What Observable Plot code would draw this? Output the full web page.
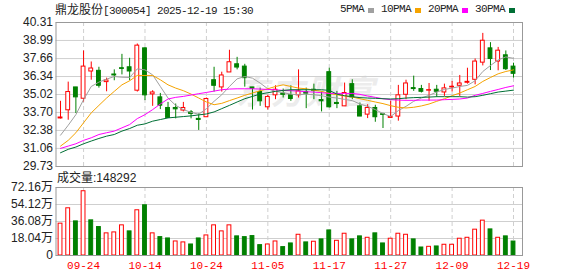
<!DOCTYPE html>
<html><head><meta charset="utf-8">
<script src="https://cdn.jsdelivr.net/npm/d3@7"></script>
<script src="https://cdn.jsdelivr.net/npm/@observablehq/plot@0.6"></script>
<style>
body{margin:0;background:#fff;}
#wrap{position:relative;width:578px;height:276px;overflow:hidden;background:#fff;font-family:"Liberation Sans","Noto Sans CJK SC",sans-serif;color:#222;}
#main{position:absolute;left:0;top:0;width:578px;height:172px;}
#vol{position:absolute;left:0;top:170px;width:578px;height:106px;}
#main svg,#vol svg{display:block;}
.cjk{font-family:"Noto Sans CJK SC",sans-serif;font-size:12px;}
.mono{font-family:"Liberation Mono",monospace;font-size:11px;letter-spacing:-0.6px;}
#title{position:absolute;left:55px;top:2px;white-space:nowrap;line-height:14px;}
#legend{position:absolute;left:340px;top:2px;display:flex;align-items:center;line-height:14px;white-space:nowrap;}
#legend .sw{display:inline-block;width:6px;height:5px;margin-left:4px;margin-right:7px;margin-top:3px;}
#volTitle{position:absolute;left:57px;top:171px;font-size:12px;line-height:14px;}
#wm{position:absolute;left:236px;top:66px;font-family:"Noto Sans CJK SC",sans-serif;font-size:33px;font-weight:bold;font-style:italic;color:#ececec;letter-spacing:2px;}
#err{position:absolute;left:0;top:120px;font-size:10px;color:#00f;}
</style>
</head><body>
<div id="wrap">
  <div id="wm">东方财富</div>
  <div id="main"></div>
  <div id="vol"></div>
  <div id="title"><span class="cjk">鼎龙股份</span><span class="mono">[300054] 2025-12-19 15:30</span></div>
  <div id="legend"></div>
  <div id="volTitle"></div>
  <div id="err"></div>
</div>
<script>
const dates = ["09-19","09-22","09-23","09-24","09-25","09-26","09-29","09-30","10-09","10-10",
"10-13","10-14","10-15","10-16","10-17","10-20","10-21","10-22","10-23","10-24",
"10-27","10-28","10-29","10-30","10-31","11-03","11-04","11-05","11-06","11-07",
"11-10","11-11","11-12","11-13","11-14","11-17","11-18","11-19","11-20","11-21",
"11-24","11-25","11-26","11-27","11-28","12-01","12-02","12-03","12-04","12-05",
"12-08","12-09","12-10","12-11","12-12","12-15","12-16","12-17","12-18","12-19"];
const open  = [33.26,33.86,35.54,34.71,36.71,36.76,35.93,36.49,36.95,37.02,
35.30,38.41,35.03,34.81,34.03,34.03,33.84,33.71,33.23,33.35,
36.07,35.54,36.64,37.24,37.07,35.54,35.20,34.08,34.96,35.08,
34.96,34.96,35.20,35.37,34.61,36.66,34.40,34.15,35.78,34.15,
33.54,34.03,33.57,33.30,33.40,35.00,35.49,35.42,35.30,35.37,
35.17,35.54,35.66,35.88,36.10,37.36,38.41,37.44,37.90,37.07];
const high  = [34.52,35.93,35.54,38.22,37.41,37.02,36.22,36.83,37.97,37.68,
38.73,38.45,35.30,35.10,34.44,34.32,34.44,33.84,33.59,34.76,
37.02,36.66,38.27,37.75,37.24,35.54,35.49,34.96,35.66,35.42,
35.66,36.83,35.49,35.78,35.20,36.95,35.25,35.86,36.10,34.40,
34.27,34.23,33.64,34.52,35.69,36.07,36.37,35.69,35.83,35.69,
35.78,35.98,36.42,36.95,37.63,39.51,38.83,38.48,38.22,37.32];
const low   = [33.22,33.13,33.62,34.47,36.07,35.49,35.22,36.03,36.46,36.03,
35.20,34.57,34.15,33.91,33.30,33.23,33.74,33.23,32.38,33.35,
35.20,35.20,36.64,36.83,35.56,33.88,34.15,33.88,34.64,34.76,
34.52,34.76,33.98,34.64,33.74,34.03,33.98,34.15,34.64,33.40,
33.25,32.98,32.52,33.30,33.06,34.64,35.25,35.13,34.52,34.81,
34.88,35.20,34.88,35.78,35.73,37.12,36.78,36.76,36.78,36.22];
const close = [33.33,35.20,34.81,37.07,36.93,35.66,36.05,36.42,36.90,36.71,
38.61,34.96,35.17,34.20,33.30,33.93,34.03,33.59,33.15,34.69,
35.66,36.42,37.39,37.00,36.22,35.44,34.52,34.84,35.37,35.00,
34.69,35.25,35.08,35.30,34.52,34.08,34.32,35.13,34.81,33.40,
34.03,33.35,33.52,33.37,34.96,35.83,35.42,35.22,35.34,35.22,
35.47,35.59,35.83,35.95,37.44,38.97,37.63,38.24,36.88,36.54];
const ma5  = [32.03,32.76,33.54,34.64,35.61,35.93,36.15,36.34,36.29,36.27,
36.90,36.83,36.46,35.61,34.76,34.22,33.91,33.71,33.57,33.98,
34.52,35.00,35.61,36.17,36.34,36.22,35.86,35.44,35.25,35.15,
35.05,35.00,35.05,35.00,34.93,34.83,34.76,34.66,34.57,34.32,
34.15,33.91,33.62,33.40,33.84,34.15,34.52,34.76,34.96,35.20,
35.39,35.49,35.61,35.69,36.03,36.71,37.15,37.56,37.78,37.68];
const ma10 = [31.23,31.65,32.21,32.94,33.67,34.22,34.76,35.25,35.73,36.03,
36.42,36.42,36.42,36.10,35.73,35.49,35.30,35.05,34.76,34.47,
34.27,34.37,34.57,34.76,34.96,35.13,35.30,35.44,35.61,35.73,
35.61,35.49,35.44,35.34,35.25,35.10,35.00,34.91,34.83,34.71,
34.59,34.47,34.35,34.20,34.08,34.03,34.08,34.18,34.32,34.52,
34.71,34.93,35.13,35.37,35.61,35.98,36.27,36.54,36.71,36.83];
const ma20 = [31.06,31.23,31.40,31.65,31.84,32.08,32.21,32.33,32.57,32.81,
33.25,33.54,33.91,34.32,34.69,34.81,34.88,34.98,35.08,35.17,
35.27,35.37,35.42,35.44,35.44,35.44,35.42,35.39,35.37,35.32,
35.30,35.27,35.22,35.20,35.15,35.10,35.10,35.10,35.10,35.03,
34.91,34.81,34.71,34.64,34.61,34.59,34.59,34.61,34.61,34.61,
34.64,34.66,34.69,34.76,34.96,35.10,35.25,35.39,35.54,35.66];
const ma30 = [30.74,30.99,31.16,31.40,31.60,31.79,31.96,32.08,32.33,32.52,
32.76,32.86,33.06,33.18,33.30,33.35,33.40,33.45,33.52,33.59,
33.74,33.98,34.22,34.47,34.71,34.88,35.05,35.15,35.25,35.32,
35.37,35.37,35.37,35.37,35.37,35.32,35.05,34.93,34.86,34.79,
34.76,34.74,34.71,34.69,34.71,34.76,34.79,34.81,34.83,34.86,
34.86,34.86,34.86,34.83,34.86,34.96,35.08,35.20,35.27,35.34];
const volume = [33.8,50.1,36.2,68.2,37.3,30.2,23.5,24.5,32.0,25.6,
48.0,53.3,23.5,19.5,18.1,14.9,13.9,11.7,18.1,21.3,
32.0,25.6,32.0,20.3,19.5,20.6,11.0,11.7,14.9,8.9,
12.8,22.0,13.9,14.6,17.1,26.6,15.6,23.1,17.1,20.3,
18.8,23.5,12.8,17.8,23.1,22.0,17.1,8.5,9.2,9.6,
11.4,11.4,17.8,18.8,27.4,37.0,27.7,18.8,20.3,14.8292];
const volDir = ["up","up","down","up","down","down","up","up","up","down",
"up","down","up","down","down","up","up","down","down","up",
"up","up","up","down","down","down","down","up","up","down",
"down","up","down","up","down","down","up","up","down","down",
"up","down","down","up","up","up","down","down","up","down",
"up","up","up","up","up","up","down","up","down","down"];
const lastVolume = 148292;
const maNames = ["5PMA","10PMA","20PMA","30PMA"];
const tickLabels = ["09-24","10-14","10-24","11-05","11-17","11-27","12-09","12-19"];
const yTicks = [29.73,31.06,32.38,33.70,35.02,36.34,37.66,38.99,40.31];
const volTicks = [0,18.04,36.08,54.12,72.16];

const RED = "#ff0000", GREEN = "#008000";
const maColors = ["#a0a0a0","#f5a300","#ff00ff","#006f35"];
const GRID = "#cfcfcf", FRAME = "#999999";
const xDomain = [-0.59, 60.17];
const half = 0.25;
const errBox = document.getElementById("err");

try {
const idx = d3.range(dates.length);
const candles = idx.map(i => ({i, o: open[i], h: high[i], l: low[i], c: close[i], up: close[i] >= open[i]}));
const vols = idx.map(i => ({i, v: volume[i], up: volDir[i] === "up"}));
const maSeries = [ma5, ma10, ma20, ma30];
const tickIdx = tickLabels.map(t => dates.indexOf(t));

const lg = document.getElementById("legend");
maNames.forEach((n, k) => {
  const s = document.createElement("span"); s.className = "mono"; s.textContent = n; lg.appendChild(s);
  const w = document.createElement("span"); w.className = "sw"; w.style.background = maColors[k]; lg.appendChild(w);
});
document.getElementById("volTitle").textContent = "成交量:" + lastVolume;

const main = Plot.plot({
  width: 578, height: 172,
  marginLeft: 55.5, marginRight: 56, marginTop: 22, marginBottom: 6,
  style: {background: "transparent", fontSize: "12px", fontFamily: "Liberation Sans, sans-serif", color: "#222", overflow: "visible"},
  color: {type: "identity"},
  x: {domain: xDomain, axis: null},
  y: {domain: [29.73, 40.31], ticks: yTicks, tickSize: 0, tickPadding: 3, tickFormat: d => d.toFixed(2), label: null},
  marks: [
    Plot.ruleY(yTicks, {stroke: GRID}),
    Plot.ruleX(tickIdx, {stroke: GRID, strokeDasharray: "4,3"}),
    Plot.ruleX(candles, {x: "i", y1: "l", y2: "h", stroke: d => d.up ? RED : GREEN}),
    Plot.rect(candles, {x1: d => d.i - half, x2: d => d.i + half, y1: "o", y2: "c",
      fill: d => d.up ? "#ffffff" : GREEN, stroke: d => d.up ? RED : GREEN}),
    ...maSeries.map((s, k) => Plot.line(idx, {x: i => i, y: i => s[i], stroke: maColors[k], strokeWidth: 1})),
    Plot.frame({stroke: FRAME})
  ]
});
document.getElementById("main").appendChild(main);

const vol = Plot.plot({
  width: 578, height: 106,
  marginLeft: 55.5, marginRight: 56, marginTop: 17, marginBottom: 21,
  style: {background: "transparent", fontSize: "12px", fontFamily: "Liberation Sans, Noto Sans CJK SC, sans-serif", color: "#222", overflow: "visible"},
  color: {type: "identity"},
  x: {domain: xDomain, axis: null},
  y: {domain: [0, 72.16], ticks: volTicks, tickSize: 0, tickPadding: 3, tickFormat: d => d === 0 ? "0" : d.toFixed(2) + "万", label: null},
  marks: [
    Plot.ruleY(volTicks, {stroke: GRID}),
    Plot.ruleX(tickIdx, {stroke: GRID, strokeDasharray: "4,3"}),
    Plot.rect(vols, {x1: d => d.i - half, x2: d => d.i + half, y1: 0, y2: "v",
      fill: d => d.up ? "#ffffff" : GREEN, stroke: d => d.up ? RED : GREEN}),
    Plot.axisX(tickIdx, {tickSize: 0, tickPadding: 6, tickFormat: i => dates[i], fill: RED,
      fontFamily: "Liberation Mono, monospace", fontSize: 11, label: null}),
    Plot.frame({stroke: FRAME})
  ]
});
document.getElementById("vol").appendChild(vol);
} catch (e) { errBox.textContent = "ERR: " + e.message; }
</script>
</body></html>
